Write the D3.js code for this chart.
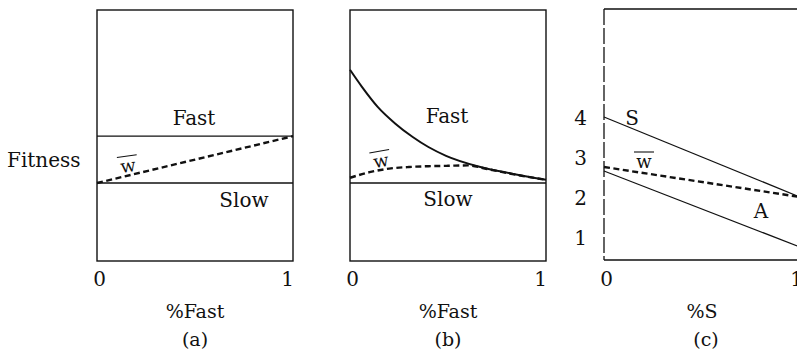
<!DOCTYPE html>
<html>
<head>
<meta charset="utf-8">
<script src="https://cdn.jsdelivr.net/npm/d3@7"></script>
<style>
  body { margin: 0; background: #fff; }
  svg text { font-family: "DejaVu Serif", serif; fill: #111; }
</style>
</head>
<body>
<svg id="chart" width="797" height="361"></svg>
<script>
// panel (a): fitness of fast / slow and mean fitness
const aX = [0, 1];
const aFast = [3.52, 3.52];
const aSlow = [2.35, 2.35];
const aW = [2.35, 3.52];

// panel (b): fast fitness falls with its own frequency
const bFastX = [0, 0.06, 0.14, 0.23, 0.32, 0.4, 0.49, 0.65, 0.82, 1];
const bFast = [5.18, 4.76, 4.26, 3.84, 3.5, 3.25, 3.03, 2.77, 2.59, 2.43];
const bWX = [0, 0.1, 0.2, 0.3, 0.4, 0.5, 0.6, 0.7, 0.8, 0.9, 1];
const bW = [2.48, 2.62, 2.71, 2.75, 2.77, 2.78, 2.79, 2.7, 2.6, 2.51, 2.43];
const bSlow = [2.35, 2.35];

// panel (c): S and A strategies
const cX = [0, 1];
const cS = [4, 2];
const cA = [2.65, 0.75];
const cW = [2.75, 2.0];
const cTicks = [1, 2, 3, 4];

const xTickLabels = ["0", "1"];
const panelLetters = ["(a)", "(b)", "(c)"];
const xTitles = ["%Fast", "%Fast", "%S"];

const svg = d3.select("#chart");
const panelLeft = [97, 350, 604];
const pw = 196, yTop = 10, yBottom = 261;

const y = d3.scaleLinear().domain([0.375, 6.675]).range([yBottom + 1, yTop]);

function pts(xs, ys) { return xs.map((d, i) => [d, ys[i]]); }

panelLeft.forEach((left, pi) => {
    const x = d3.scaleLinear().domain([0, 1]).range([left, left + pw]);
    const g = svg.append("g");
    const line = d3.line().x(d => x(d[0])).y(d => y(d[1]));
    const curved = d3.line().x(d => x(d[0])).y(d => y(d[1])).curve(d3.curveMonotoneX);

    // frame
    if (pi < 2) {
        g.append("rect")
            .attr("x", left).attr("y", yTop)
            .attr("width", pw).attr("height", yBottom - yTop)
            .attr("fill", "none").attr("stroke", "#111").attr("stroke-width", 1.4);
    } else {
        g.append("path")
            .attr("d", `M${left},${yTop - 1}H${left + pw}V${yBottom - 1}H${left}`)
            .attr("fill", "none").attr("stroke", "#111").attr("stroke-width", 1.4);
        g.append("line")
            .attr("x1", left).attr("x2", left)
            .attr("y1", yTop - 1).attr("y2", yBottom - 1)
            .attr("stroke", "#111").attr("stroke-width", 1.3)
            .attr("stroke-dasharray", "16,3");
    }

    // x axis tick labels
    const xAxis = d3.axisBottom(x).tickValues([0, 1]).tickSize(0).tickPadding(0)
        .tickFormat((d, i) => xTickLabels[i]);
    const ax = g.append("g").attr("transform", `translate(0,${yBottom + 25})`).call(xAxis);
    ax.select(".domain").remove();
    ax.selectAll("text")
        .attr("y", 0).attr("dy", 0)
        .attr("dx", (d) => d === 0 ? 2 : (pi === 2 ? -4 : -6))
        .style("font-size", "20px").style("font-family", "DejaVu Serif, serif");

    g.append("text").attr("x", left + pw / 2).attr("y", 318)
        .attr("text-anchor", "middle").style("font-size", "19px").text(xTitles[pi]);
    g.append("text").attr("x", left + pw / 2 + (pi === 2 ? 4 : 0)).attr("y", 346)
        .attr("text-anchor", "middle").style("font-size", "19px").text(panelLetters[pi]);

    const thin = (data, w) => g.append("path").datum(data).attr("d", line)
        .attr("fill", "none").attr("stroke", "#111").attr("stroke-width", w);
    const dashed = (data, gen) => g.append("path").datum(data).attr("d", gen)
        .attr("fill", "none").attr("stroke", "#111").attr("stroke-width", 2.4)
        .attr("stroke-dasharray", "6,3.5");

    if (pi === 0) {
        thin(pts(aX, aFast), 1.3);
        thin(pts(aX, aSlow), 1.3);
        dashed(pts(aX, aW), line);
    } else if (pi === 1) {
        thin(pts(aX, bSlow), 1.3);
        g.append("path").datum(pts(bFastX, bFast)).attr("d", curved)
            .attr("fill", "none").attr("stroke", "#111").attr("stroke-width", 2);
        dashed(pts(bWX, bW), curved);
    } else {
        thin(pts(cX, cS), 1.2);
        thin(pts(cX, cA), 1.2);
        dashed(pts(cX, cW), line);
        const yAxis = d3.axisLeft(y).tickValues(cTicks).tickSize(0).tickPadding(17)
            .tickFormat(d3.format("d"));
        const ay = g.append("g").attr("transform", `translate(${left},0)`).call(yAxis);
        ay.select(".domain").remove();
        ay.selectAll("text").style("font-size", "20px")
            .style("font-family", "DejaVu Serif, serif").attr("dy", "0.38em");
    }
});

// series labels
const labels = [
    { t: "Fast", x: 194, y: 125, a: "middle" },
    { t: "Slow", x: 244, y: 207, a: "middle" },
    { t: "Fast", x: 447, y: 123, a: "middle" },
    { t: "Slow", x: 448, y: 206, a: "middle" },
    { t: "S", x: 632, y: 125, a: "middle" },
    { t: "A", x: 761, y: 218, a: "middle" },
    { t: "Fitness", x: 7, y: 167, a: "start" }
];
svg.selectAll("text.lab").data(labels).join("text").attr("class", "lab")
    .attr("x", d => d.x).attr("y", d => d.y).attr("text-anchor", d => d.a)
    .style("font-size", "20px").text(d => d.t);

// w-bar labels
const wLabels = [
    { x: 129, y: 172, r: -8 },
    { x: 382, y: 167, r: -10 },
    { x: 644, y: 168, r: 0 }
];
const wg = svg.selectAll("g.wbar").data(wLabels).join("g").attr("class", "wbar")
    .attr("transform", d => `translate(${d.x},${d.y}) rotate(${d.r})`);
wg.append("text").attr("text-anchor", "middle").style("font-size", "18px")
    .text("w");
wg.append("line").attr("x1", -10).attr("x2", 10).attr("y1", -16).attr("y2", -16)
    .attr("stroke", "#111").attr("stroke-width", 1.1);
</script>
</body>
</html>
